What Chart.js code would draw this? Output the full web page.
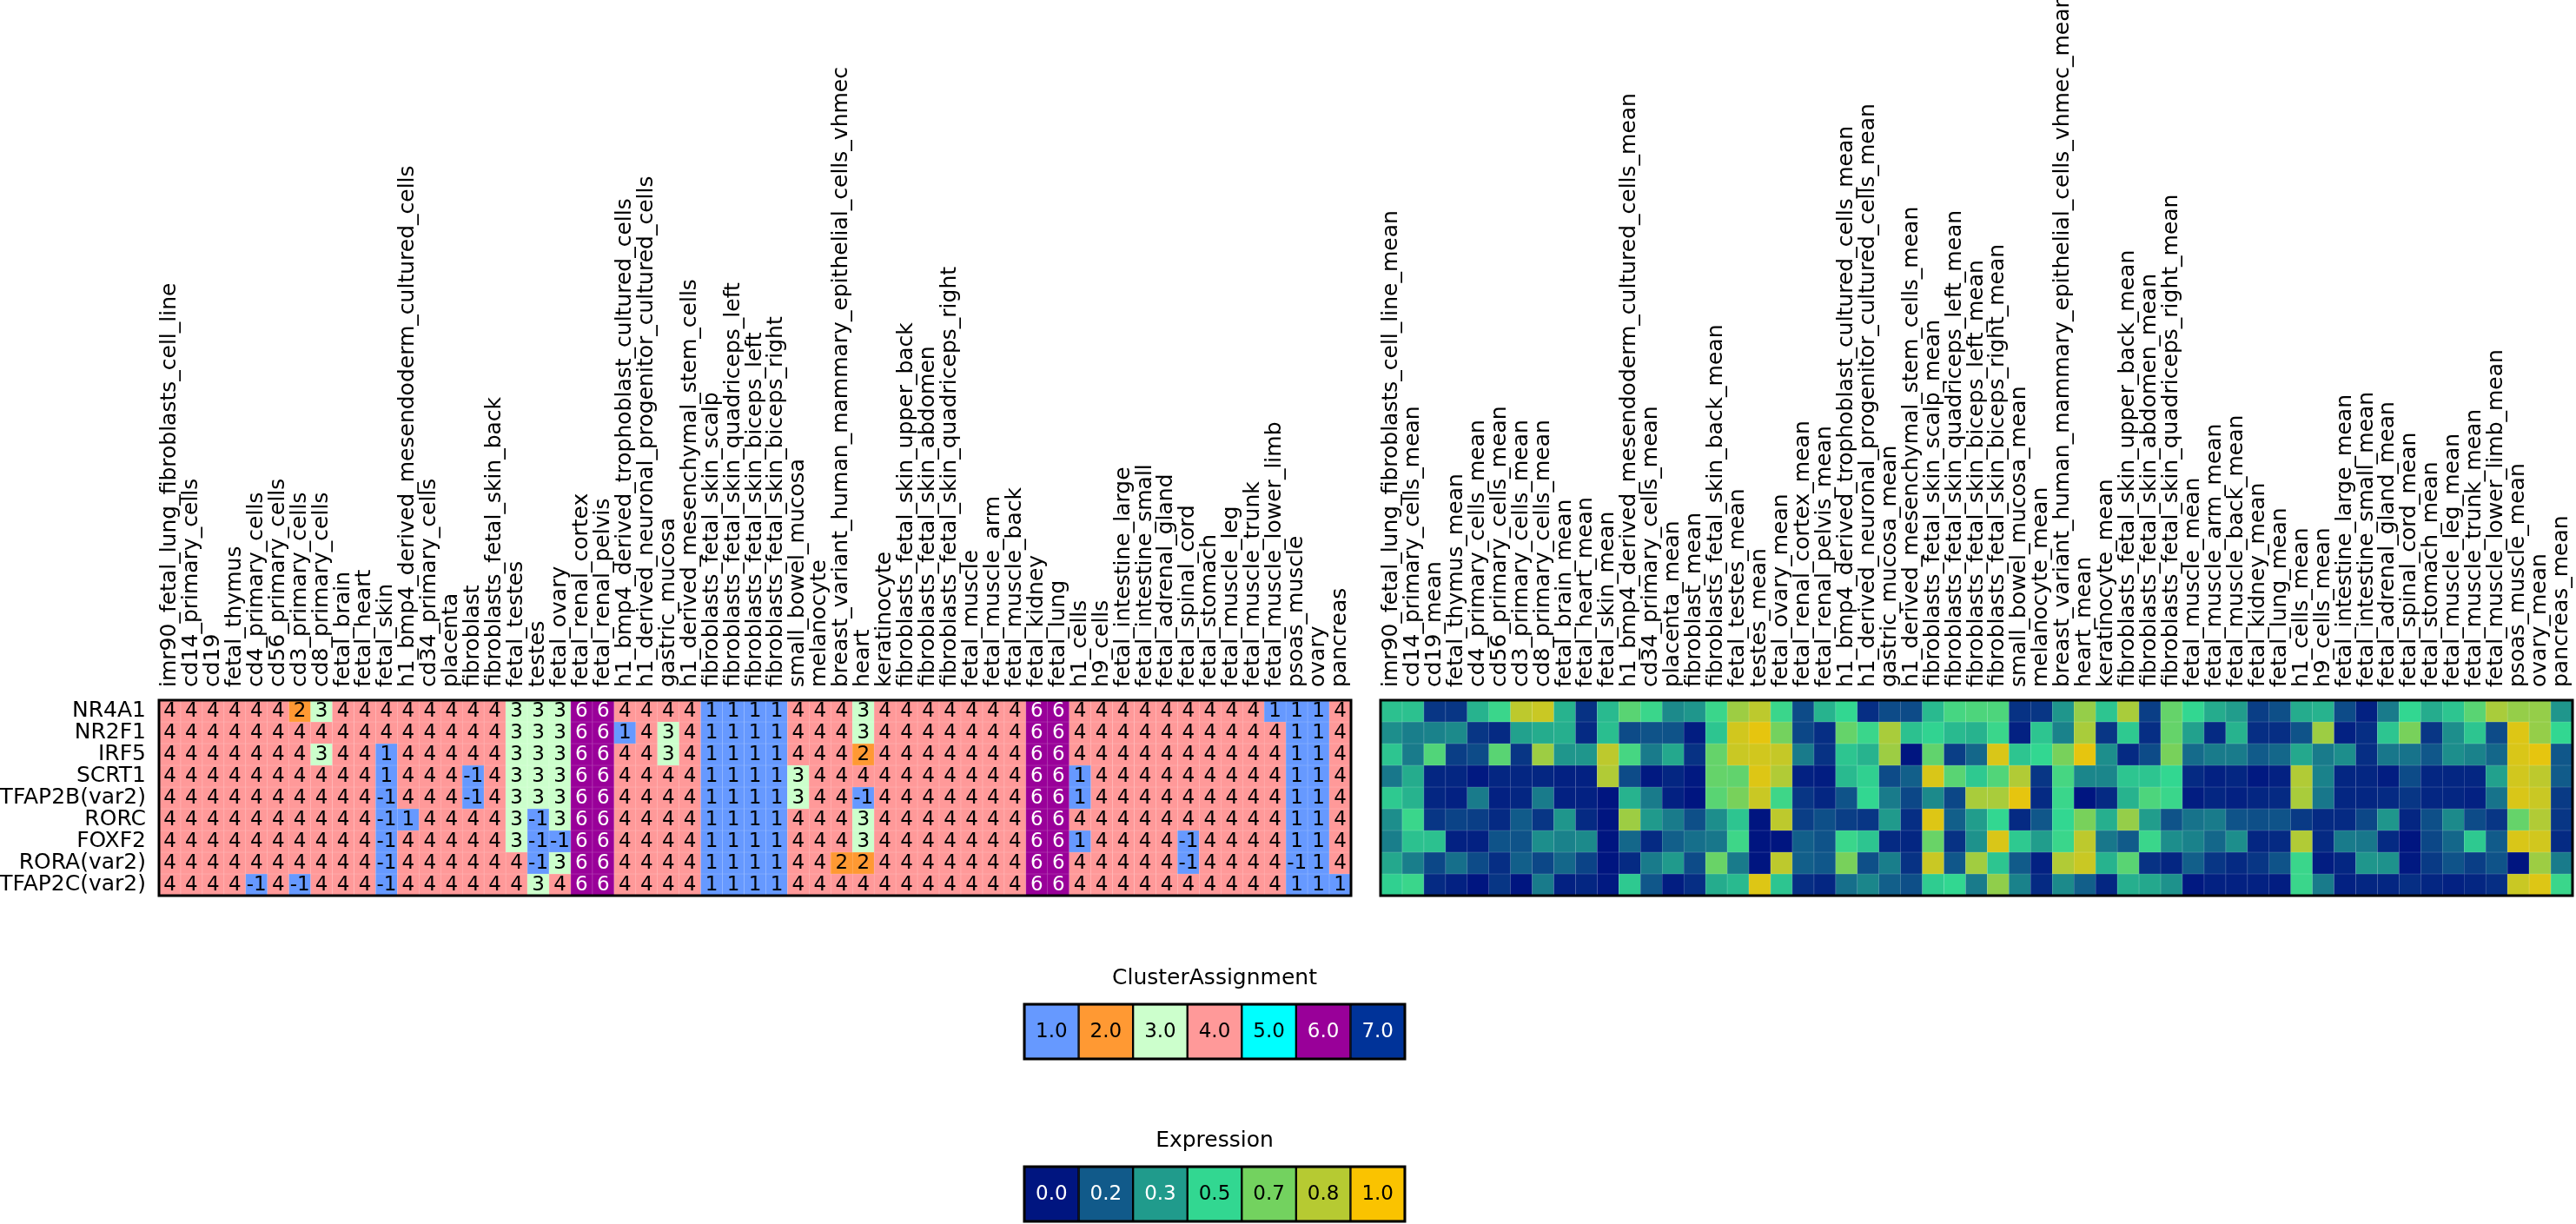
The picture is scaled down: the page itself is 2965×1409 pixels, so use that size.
<!DOCTYPE html>
<html><head><meta charset="utf-8">
<script src="https://cdn.jsdelivr.net/npm/chart.js@4.4.1/dist/chart.umd.min.js"></script>
<style>
html,body{margin:0;padding:0;background:#fff;width:2965px;height:1409px;overflow:hidden;}
.box{position:absolute;}
</style></head><body>
<div class="box" style="left:0;top:0;width:1560px;height:1036px"><canvas id="left"></canvas></div>
<div class="box" style="left:1584px;top:0;width:1381px;height:1036px"><canvas id="right"></canvas></div>
<div class="box" style="left:1170px;top:1111px;width:456px;height:113px"><canvas id="legCluster"></canvas></div>
<div class="box" style="left:1170px;top:1298px;width:456px;height:113px"><canvas id="legExpr"></canvas></div>
<script>
// ---------------- DATA ----------------
const genes = ["NR4A1","NR2F1","IRF5","SCRT1","TFAP2B(var2)","RORC","FOXF2","RORA(var2)","TFAP2C(var2)"];

const tissues = ["imr90_fetal_lung_fibroblasts_cell_line","cd14_primary_cells","cd19","fetal_thymus","cd4_primary_cells",
"cd56_primary_cells","cd3_primary_cells","cd8_primary_cells","fetal_brain","fetal_heart","fetal_skin",
"h1_bmp4_derived_mesendoderm_cultured_cells","cd34_primary_cells","placenta","fibroblast","fibroblasts_fetal_skin_back",
"fetal_testes","testes","fetal_ovary","fetal_renal_cortex","fetal_renal_pelvis","h1_bmp4_derived_trophoblast_cultured_cells",
"h1_derived_neuronal_progenitor_cultured_cells","gastric_mucosa","h1_derived_mesenchymal_stem_cells","fibroblasts_fetal_skin_scalp",
"fibroblasts_fetal_skin_quadriceps_left","fibroblasts_fetal_skin_biceps_left","fibroblasts_fetal_skin_biceps_right","small_bowel_mucosa",
"melanocyte","breast_variant_human_mammary_epithelial_cells_vhmec","heart","keratinocyte","fibroblasts_fetal_skin_upper_back",
"fibroblasts_fetal_skin_abdomen","fibroblasts_fetal_skin_quadriceps_right","fetal_muscle","fetal_muscle_arm","fetal_muscle_back",
"fetal_kidney","fetal_lung","h1_cells","h9_cells","fetal_intestine_large","fetal_intestine_small","fetal_adrenal_gland",
"fetal_spinal_cord","fetal_stomach","fetal_muscle_leg","fetal_muscle_trunk","fetal_muscle_lower_limb","psoas_muscle","ovary","pancreas"];

const meanLabels = tissues.map(t => t + "_mean");

// Cluster assignment per gene (left heatmap)
const clNR4A1 = [4,4,4,4,4,4,2,3,4,4,4,4,4,4,4,4,3,3,3,6,6,4,4,4,4,1,1,1,1,4,4,4,3,4,4,4,4,4,4,4,6,6,4,4,4,4,4,4,4,4,4,1,1,1,4];
const clNR2F1 = [4,4,4,4,4,4,4,4,4,4,4,4,4,4,4,4,3,3,3,6,6,1,4,3,4,1,1,1,1,4,4,4,3,4,4,4,4,4,4,4,6,6,4,4,4,4,4,4,4,4,4,4,1,1,4];
const clIRF5  = [4,4,4,4,4,4,4,3,4,4,1,4,4,4,4,4,3,3,3,6,6,4,4,3,4,1,1,1,1,4,4,4,2,4,4,4,4,4,4,4,6,6,4,4,4,4,4,4,4,4,4,4,1,1,4];
const clSCRT1 = [4,4,4,4,4,4,4,4,4,4,1,4,4,4,-1,4,3,3,3,6,6,4,4,4,4,1,1,1,1,3,4,4,4,4,4,4,4,4,4,4,6,6,1,4,4,4,4,4,4,4,4,4,1,1,4];
const clTFAP2B = [4,4,4,4,4,4,4,4,4,4,-1,4,4,4,-1,4,3,3,3,6,6,4,4,4,4,1,1,1,1,3,4,4,-1,4,4,4,4,4,4,4,6,6,1,4,4,4,4,4,4,4,4,4,1,1,4];
const clRORC  = [4,4,4,4,4,4,4,4,4,4,-1,1,4,4,4,4,3,-1,3,6,6,4,4,4,4,1,1,1,1,4,4,4,3,4,4,4,4,4,4,4,6,6,4,4,4,4,4,4,4,4,4,4,1,1,4];
const clFOXF2 = [4,4,4,4,4,4,4,4,4,4,-1,4,4,4,4,4,3,-1,-1,6,6,4,4,4,4,1,1,1,1,4,4,4,3,4,4,4,4,4,4,4,6,6,1,4,4,4,4,-1,4,4,4,4,1,1,4];
const clRORA  = [4,4,4,4,4,4,4,4,4,4,-1,4,4,4,4,4,4,-1,3,6,6,4,4,4,4,1,1,1,1,4,4,2,2,4,4,4,4,4,4,4,6,6,4,4,4,4,4,-1,4,4,4,4,-1,1,4];
const clTFAP2C = [4,4,4,4,-1,4,-1,4,4,4,-1,4,4,4,4,4,4,3,4,6,6,4,4,4,4,1,1,1,1,4,4,4,4,4,4,4,4,4,4,4,6,6,4,4,4,4,4,4,4,4,4,4,1,1,1];
const clusterRows = [clNR4A1, clNR2F1, clIRF5, clSCRT1, clTFAP2B, clRORC, clFOXF2, clRORA, clTFAP2C];

// Mean expression per gene (right heatmap)
const exNR4A1 = [0.44,0.44,0.08,0.08,0.40,0.52,0.85,0.88,0.40,0.07,0.42,0.60,0.52,0.29,0.32,0.52,0.77,0.85,0.52,0.13,0.40,0.50,0.06,0.13,0.13,0.42,0.55,
 0.57,0.57,0.07,0.08,0.32,0.75,0.45,0.80,0.10,0.63,0.50,0.38,0.34,0.10,0.14,0.38,0.40,0.13,0.03,0.25,0.50,0.38,0.45,0.60,0.80,0.75,0.75,0.32];
const exNR2F1 = [0.30,0.26,0.27,0.29,0.08,0.05,0.35,0.38,0.39,0.05,0.43,0.13,0.15,0.15,0.02,0.45,0.90,0.95,0.67,0.12,0.06,0.63,0.52,0.80,0.44,0.49,0.42,
 0.40,0.52,0.03,0.45,0.27,0.80,0.08,0.46,0.06,0.63,0.35,0.05,0.40,0.06,0.06,0.15,0.77,0.03,0.06,0.45,0.68,0.08,0.30,0.45,0.13,0.93,0.75,0.50];
const exIRF5 = [0.45,0.25,0.58,0.10,0.13,0.60,0.08,0.77,0.32,0.32,0.85,0.55,0.25,0.37,0.07,0.63,0.88,0.90,0.87,0.25,0.07,0.45,0.40,0.77,0.00,0.62,0.10,
 0.20,0.92,0.45,0.50,0.68,0.95,0.30,0.05,0.13,0.68,0.21,0.25,0.25,0.17,0.20,0.37,0.25,0.30,0.06,0.24,0.23,0.16,0.30,0.27,0.20,0.92,0.95,0.16];
const exSCRT1 = [0.24,0.38,0.04,0.04,0.01,0.04,0.04,0.04,0.03,0.03,0.82,0.13,0.01,0.04,0.01,0.63,0.62,0.93,0.82,0.03,0.02,0.42,0.48,0.13,0.18,0.92,0.60,
 0.46,0.58,0.82,0.08,0.55,0.28,0.28,0.45,0.45,0.50,0.05,0.03,0.04,0.01,0.03,0.82,0.27,0.04,0.04,0.02,0.13,0.04,0.04,0.04,0.35,0.90,0.85,0.17];
const exTFAP2B = [0.46,0.40,0.04,0.03,0.25,0.03,0.04,0.25,0.03,0.03,0.00,0.40,0.25,0.03,0.00,0.60,0.68,0.88,0.53,0.08,0.04,0.15,0.50,0.25,0.12,0.29,0.12,
 0.80,0.80,0.95,0.05,0.52,0.00,0.05,0.40,0.57,0.52,0.02,0.04,0.03,0.04,0.05,0.80,0.24,0.04,0.04,0.05,0.08,0.04,0.04,0.03,0.23,0.92,0.88,0.09];
const exRORC = [0.30,0.52,0.08,0.11,0.10,0.05,0.17,0.08,0.32,0.05,0.00,0.77,0.33,0.25,0.14,0.30,0.45,0.00,0.85,0.10,0.14,0.10,0.08,0.33,0.06,0.93,0.18,
 0.34,0.50,0.05,0.16,0.50,0.68,0.39,0.75,0.34,0.15,0.23,0.25,0.15,0.14,0.15,0.09,0.05,0.05,0.12,0.32,0.04,0.14,0.29,0.13,0.08,0.63,0.82,0.08];
const exFOXF2 = [0.26,0.44,0.44,0.03,0.03,0.15,0.15,0.30,0.27,0.29,0.00,0.20,0.05,0.18,0.22,0.24,0.53,0.00,0.00,0.18,0.15,0.52,0.45,0.05,0.04,0.64,0.07,
 0.31,0.92,0.46,0.34,0.52,0.85,0.24,0.17,0.52,0.30,0.27,0.20,0.30,0.04,0.05,0.82,0.05,0.25,0.24,0.05,0.00,0.12,0.20,0.46,0.17,0.92,0.90,0.05];
const exRORA = [0.37,0.26,0.12,0.22,0.13,0.06,0.18,0.12,0.20,0.11,0.00,0.05,0.25,0.33,0.13,0.64,0.25,0.00,0.85,0.18,0.16,0.68,0.14,0.26,0.07,0.88,0.16,
 0.78,0.45,0.17,0.03,0.82,0.88,0.40,0.60,0.07,0.04,0.18,0.08,0.05,0.08,0.15,0.52,0.02,0.04,0.32,0.31,0.01,0.09,0.15,0.10,0.15,0.00,0.77,0.25];
const exTFAP2C = [0.48,0.52,0.05,0.03,0.00,0.08,0.00,0.25,0.03,0.04,0.01,0.46,0.16,0.02,0.06,0.38,0.42,0.93,0.45,0.06,0.04,0.22,0.28,0.18,0.14,0.47,0.50,
 0.25,0.74,0.27,0.05,0.29,0.18,0.04,0.39,0.37,0.31,0.01,0.03,0.03,0.03,0.02,0.52,0.25,0.03,0.04,0.04,0.06,0.04,0.03,0.04,0.06,0.88,0.93,0.52];
const exprRows = [exNR4A1, exNR2F1, exIRF5, exSCRT1, exTFAP2B, exRORC, exFOXF2, exRORA, exTFAP2C];

// Legends
const clusterLegendValues = [1,2,3,4,5,6,7];
const clusterLegendLabels = ["1.0","2.0","3.0","4.0","5.0","6.0","7.0"];
const exprLegendValues = [0, 1/6, 2/6, 3/6, 4/6, 5/6, 1];
const exprLegendLabels = ["0.0","0.2","0.3","0.5","0.7","0.8","1.0"];

// ---------------- STYLE ----------------
const FONT = "DejaVu Sans";
Chart.defaults.font.family = FONT;
Chart.defaults.color = "#000";

const clusterPalette = {"-1":"#6699ff","1":"#6699ff","2":"#ff9933","3":"#ccffcc","4":"#ff9999","5":"#00ffff","6":"#990099","7":"#003399"};
const clusterColor = v => clusterPalette[String(v)];
const exprStops = [[0,[0,21,128]],[1/6,[17,90,138]],[2/6,[32,155,140]],[3/6,[50,215,145]],[4/6,[115,210,95]],[5/6,[182,202,50]],[1,[250,195,0]]];
function exprRGB(v){
  v = Math.max(0, Math.min(1, v));
  for (let i = 1; i < exprStops.length; i++) {
    const [p1,c1] = exprStops[i-1], [p2,c2] = exprStops[i];
    if (v <= p2) { const t = (v-p1)/(p2-p1); return c1.map((c,k)=>Math.round(c+(c2[k]-c)*t)); }
  }
  return exprStops[exprStops.length-1][1];
}
const exprColor = v => { const c = exprRGB(v); return `rgb(${c[0]},${c[1]},${c[2]})`; };
function hexRGB(h){ return [parseInt(h.slice(1,3),16),parseInt(h.slice(3,5),16),parseInt(h.slice(5,7),16)]; }
function lighten(rgb, a){ return `rgb(${rgb.map(c=>Math.round(c+(255-c)*a)).join(",")})`; }

function noOverflow(s){ s.paddingLeft = 0; s.paddingRight = 0; s.paddingTop = 0; s.paddingBottom = 0; }

function framePlugin(width){
  return { id:'frame', afterDatasetsDraw(chart){
    const a = chart.chartArea, ctx = chart.ctx;
    ctx.save(); ctx.strokeStyle = "#000"; ctx.lineWidth = width;
    ctx.strokeRect(a.left, a.top, a.right-a.left, a.bottom-a.top); ctx.restore();
  }};
}
function textPlugin(labelsByRow, colorsByRow, size){
  return { id:'cellText', afterDatasetsDraw(chart){
    const ctx = chart.ctx; ctx.save();
    ctx.font = `${size}px "${FONT}"`; ctx.textAlign = "center"; ctx.textBaseline = "middle";
    chart.data.datasets.forEach((ds, r) => {
      chart.getDatasetMeta(r).data.forEach((el, i) => {
        ctx.fillStyle = colorsByRow[r][i];
        ctx.fillText(labelsByRow[r][i], el.x, (el.y + el.base)/2 + 1);
      });
    });
    ctx.restore();
  }};
}

function heatDatasets(rows, colorFn){
  return rows.map((row, r) => ({
    label: genes[r],
    data: row.map(() => [r, r+1]),
    backgroundColor: row.map(colorFn),
    borderColor: row.map(v => { const c = colorFn(v); const rgb = c.startsWith('#') ? hexRGB(c) : c.match(/\d+/g).map(Number); return lighten(rgb, 0.3); }),
    borderWidth: 0.6,
    borderSkipped: false,
    barPercentage: 1, categoryPercentage: 1, grouped: false
  }));
}

function xAxis(labels){
  return {
    type:'category', labels, position:'top', offset:true,
    grid:{display:false, drawTicks:false}, border:{display:false},
    ticks:{autoSkip:false, minRotation:90, maxRotation:90, padding:15, labelOffset:30, font:{size:25, family:FONT}, color:'#000'},
    afterFit(s){ s.height = 806; noOverflow(s); }
  };
}

// Left heatmap: cluster assignment
new Chart(document.getElementById('left'), {
  type:'bar',
  data:{ labels: tissues, datasets: heatDatasets(clusterRows, clusterColor) },
  options:{
    responsive:true, maintainAspectRatio:false, animation:false,
    layout:{padding:{left:0, right:5, top:0, bottom:5}},
    plugins:{legend:{display:false}, tooltip:{enabled:false}, title:{display:false}},
    scales:{
      x: xAxis(tissues),
      y: {type:'linear', min:0, max:genes.length, reverse:true, display:false},
      yl: {type:'category', labels: genes, position:'left', offset:true,
           grid:{display:false, drawTicks:false}, border:{display:false},
           ticks:{autoSkip:false, padding:15, font:{size:25, family:FONT}, color:'#000'},
           afterFit(s){ s.width = 183; noOverflow(s); }}
    }
  },
  plugins:[
    textPlugin(clusterRows.map(r=>r.map(v=>String(v))), clusterRows.map(r=>r.map(v=> v===6 ? '#fff' : '#000')), 23),
    framePlugin(3)
  ]
});

// Right heatmap: mean expression
new Chart(document.getElementById('right'), {
  type:'bar',
  data:{ labels: meanLabels, datasets: heatDatasets(exprRows, exprColor) },
  options:{
    responsive:true, maintainAspectRatio:false, animation:false,
    layout:{padding:{left:5, right:4, top:0, bottom:5}},
    plugins:{legend:{display:false}, tooltip:{enabled:false}, title:{display:false}},
    scales:{
      x: xAxis(meanLabels),
      y: {type:'linear', min:0, max:genes.length, reverse:true, display:false}
    }
  },
  plugins:[framePlugin(3)]
});

function legendChart(id, title, labels, colors, textColors){
  new Chart(document.getElementById(id), {
    type:'bar',
    data:{ labels, datasets:[{
      data: labels.map(()=>[0,1]), backgroundColor: colors, borderColor:'#000', borderWidth:1.5,
      borderSkipped:false, barPercentage:1, categoryPercentage:1
    }]},
    options:{
      responsive:true, maintainAspectRatio:false, animation:false,
      layout:{padding:{left:9, right:9, top:0, bottom:5}},
      plugins:{legend:{display:false}, tooltip:{enabled:false},
        title:{display:true, text:title, color:'#000', font:{size:25, family:FONT, weight:'normal'}, padding:{top:0, bottom:15}}},
      scales:{ x:{display:false}, y:{display:false, min:0, max:1} }
    },
    plugins:[textPlugin([labels], [textColors], 23), framePlugin(3)]
  });
}
legendChart('legCluster', 'ClusterAssignment', clusterLegendLabels,
  clusterLegendValues.map(clusterColor), clusterLegendValues.map(v => v >= 6 ? '#fff' : '#000'));
legendChart('legExpr', 'Expression', exprLegendLabels,
  exprLegendValues.map(exprColor), exprLegendValues.map(v => v < 0.4 ? '#fff' : '#000'));
</script></body></html>
